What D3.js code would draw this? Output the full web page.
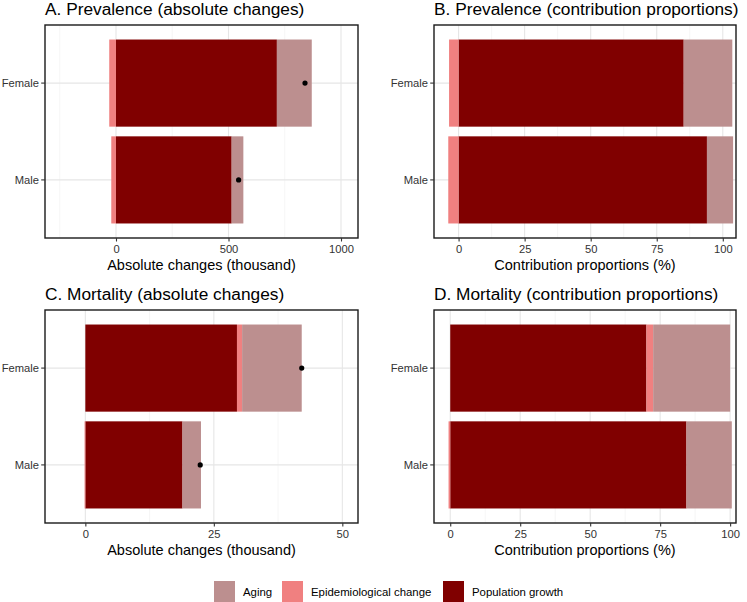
<!DOCTYPE html>
<html><head><meta charset="utf-8">
<script src="https://cdn.jsdelivr.net/npm/d3@7"></script>
<style>body{margin:0;background:#fff}svg{display:block;font-family:"Liberation Sans",Arial,sans-serif}</style>
</head><body><svg id="c" width="747" height="602"></svg>
<script>
const sexes = ["Female", "Male"];
const components = ["Aging", "Epidemiological change", "Population growth"];
const colors = ["#BC8F8F", "#F08080", "#800000"];

// Panel A: prevalence absolute changes (thousand)
const prevAbsPop = [715, 514];
const prevAbsEpi = [-30, -21];
const prevAbsAging = [155, 52];
const prevAbsTotal = [840, 545];
// Panel B: prevalence contribution proportions (%)
const prevPropPop = [85.2, 94.0];
const prevPropEpi = [-3.6, -3.9];
const prevPropAging = [18.4, 9.9];
// Panel C: mortality absolute changes (thousand)
const mortAbsPop = [29.5, 18.9];
const mortAbsEpi = [1.0, -0.15];
const mortAbsAging = [11.6, 3.6];
const mortAbsTotal = [42.1, 22.35];
// Panel D: mortality contribution proportions (%)
const mortPropPop = [70.1, 84.4];
const mortPropEpi = [2.4, -0.6];
const mortPropAging = [27.5, 16.2];

const ticksAbsPrev = [0, 500, 1000];
const ticksAbsMort = [0, 25, 50];
const ticksProp = [0, 25, 50, 75, 100];

const panels = [
  {title:"A. Prevalence (absolute changes)", xt:"Absolute changes (thousand)", x0:45, x1:358, y0:25, y1:238,
   dom:[-315.5, 1075.5], ticks:ticksAbsPrev, minor:[-250,250,750], pop:prevAbsPop, epi:prevAbsEpi, aging:prevAbsAging, total:prevAbsTotal},
  {title:"B. Prevalence (contribution proportions)", xt:"Contribution proportions (%)", x0:434, x1:736, y0:25, y1:238,
   dom:[-9.3, 105], ticks:ticksProp, minor:[12.5,37.5,62.5,87.5], pop:prevPropPop, epi:prevPropEpi, aging:prevPropAging, total:null},
  {title:"C. Mortality (absolute changes)", xt:"Absolute changes (thousand)", x0:45, x1:358, y0:310, y1:523,
   dom:[-7.85, 53.05], ticks:ticksAbsMort, minor:[12.5,37.5], pop:mortAbsPop, epi:mortAbsEpi, aging:mortAbsAging, total:mortAbsTotal},
  {title:"D. Mortality (contribution proportions)", xt:"Contribution proportions (%)", x0:434, x1:736, y0:310, y1:523,
   dom:[-5.8, 102.1], ticks:ticksProp, minor:[12.5,37.5,62.5,87.5], pop:mortPropPop, epi:mortPropEpi, aging:mortPropAging, total:null}
];

const svg = d3.select("#c");
const FONT = "Liberation Sans, Arial, sans-serif";

panels.forEach(p => {
  const g = svg.append("g");
  const x = d3.scaleLinear().domain(p.dom).range([p.x0, p.x1]);
  const y = d3.scaleBand().domain(sexes).range([p.y0, p.y1]).paddingInner(0.1).paddingOuter(0.15);

  // grid
  g.selectAll(".mn").data(p.minor).join("line")
    .attr("x1", d=>x(d)).attr("x2", d=>x(d)).attr("y1", p.y0).attr("y2", p.y1)
    .attr("stroke", "#f0f0f0").attr("stroke-width", 0.6);
  g.selectAll(".mj").data(p.ticks).join("line")
    .attr("x1", d=>x(d)).attr("x2", d=>x(d)).attr("y1", p.y0).attr("y2", p.y1)
    .attr("stroke", "#e6e6e6").attr("stroke-width", 1.1);
  g.selectAll(".hy").data(sexes).join("line")
    .attr("x1", p.x0).attr("x2", p.x1).attr("y1", d=>y(d)+y.bandwidth()/2).attr("y2", d=>y(d)+y.bandwidth()/2)
    .attr("stroke", "#e6e6e6").attr("stroke-width", 1.1);

  // stacked bars
  const rows = sexes.map((s,i) => {
    const segs = [];
    let pos = 0, neg = 0;
    [["Population growth", p.pop[i]], ["Epidemiological change", p.epi[i]], ["Aging", p.aging[i]]].forEach(([k,v]) => {
      if (v >= 0) { segs.push({s, k, a:pos, b:pos+v}); pos += v; }
      else { segs.push({s, k, a:neg+v, b:neg}); neg += v; }
    });
    return segs;
  }).flat();
  const col = d3.scaleOrdinal().domain(components).range(colors);
  g.selectAll(".bar").data(rows).join("rect")
    .attr("x", d=>x(d.a)).attr("width", d=>x(d.b)-x(d.a))
    .attr("y", d=>y(d.s)).attr("height", y.bandwidth())
    .attr("fill", d=>col(d.k));

  if (p.total) {
    g.selectAll(".dot").data(sexes).join("circle")
      .attr("cx", (d,i)=>x(p.total[i])).attr("cy", d=>y(d)+y.bandwidth()/2).attr("r", 2.6).attr("fill", "#000");
  }

  // border
  g.append("rect").attr("x", p.x0).attr("y", p.y0).attr("width", p.x1-p.x0).attr("height", p.y1-p.y0)
    .attr("fill", "none").attr("stroke", "#1a1a1a").attr("stroke-width", 1.4);

  // axes
  const ax = g.append("g").attr("transform", `translate(0,${p.y1})`)
    .call(d3.axisBottom(x).tickValues(p.ticks).tickSize(3.5).tickPadding(3.5).tickFormat(d3.format("d")));
  ax.select(".domain").remove();
  ax.selectAll(".tick line").attr("stroke", "#333").attr("stroke-width", 1.1);
  ax.selectAll("text").attr("fill", "#333").style("font-size", "11.2px").style("font-family", FONT);

  const ay = g.append("g").attr("transform", `translate(${p.x0},0)`)
    .call(d3.axisLeft(y).tickSize(3.8).tickPadding(2.2));
  ay.select(".domain").remove();
  ay.selectAll(".tick line").attr("stroke", "#333").attr("stroke-width", 1.1);
  ay.selectAll("text").attr("fill", "#333").style("font-size", "11.2px").style("font-family", FONT);

  g.append("text").attr("x", (p.x0+p.x1)/2).attr("y", p.y1+31.5).attr("text-anchor", "middle")
    .style("font-size", "14.5px").attr("fill", "#000").text(p.xt);
  g.append("text").attr("x", p.x0).attr("y", p.y0-9.6).style("font-size", "17.3px").attr("fill", "#000").text(p.title);
});

// legend
const legX = [214, 282, 443];
const lg = svg.append("g");
components.forEach((c,i) => {
  lg.append("rect").attr("x", legX[i]).attr("y", 581).attr("width", 21).attr("height", 22).attr("fill", colors[i]);
  lg.append("text").attr("x", legX[i]+29).attr("y", 596).style("font-size", "11.4px").attr("fill", "#000").text(c);
});
</script></body></html>
